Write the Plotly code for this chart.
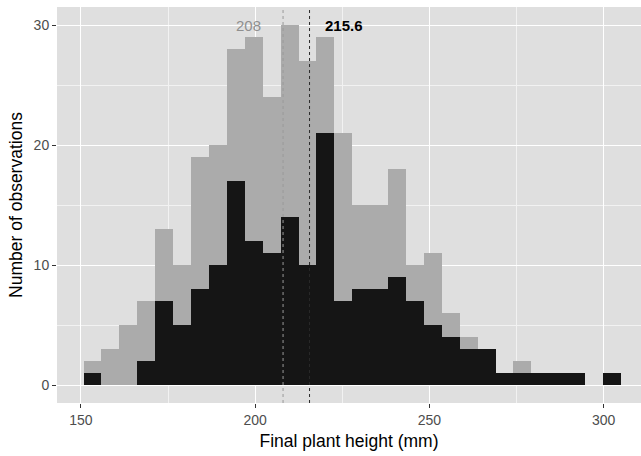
import plotly.graph_objects as go

# Histogram bins (30 bins, ggplot default)
bin_start = 150.75
bin_width = 5.14
n_bins = 30
bin_centers = [bin_start + bin_width * (i + 0.5) for i in range(n_bins)]

# Counts per bin
gray_counts = [2, 3, 5, 7, 13, 10, 19, 20, 28, 29,
               24, 30, 27, 29, 21, 15, 15, 18, 10, 11,
               6, 4, 3, 1, 2, 1, 1, 1, 0, 1]
black_counts = [1, 0, 0, 2, 7, 5, 8, 10, 17, 12,
                11, 14, 10, 21, 7, 8, 8, 9, 7, 5,
                4, 3, 3, 1, 1, 1, 1, 1, 0, 1]

gray_mean = 208.0
black_mean = 215.6
gray_mean_label = "208"
black_mean_label = "215.6"

x_ticks = [150, 200, 250, 300]
y_ticks = [0, 10, 20, 30]

FONT = "Liberation Sans, Arial, sans-serif"
GRAY_BAR = "#ababab"
BLACK_BAR = "#151515"
PANEL = "#dfdfdf"

fig = go.Figure()
fig.add_trace(go.Bar(x=bin_centers, y=gray_counts, width=bin_width,
                     marker=dict(color=GRAY_BAR, line=dict(width=0)),
                     showlegend=False, hoverinfo="x+y"))
fig.add_trace(go.Bar(x=bin_centers, y=black_counts, width=bin_width,
                     marker=dict(color=BLACK_BAR, line=dict(width=0)),
                     showlegend=False, hoverinfo="x+y"))

# mean lines
fig.add_shape(type="line", xref="x", yref="paper", x0=gray_mean, x1=gray_mean,
              y0=0, y1=1, line=dict(color="#9a9a9a", width=1, dash="3px,3px"))
fig.add_shape(type="line", xref="x", yref="paper", x0=black_mean, x1=black_mean,
              y0=0, y1=1, line=dict(color="#2a2a2a", width=1, dash="3px,3px"))

fig.add_annotation(x=gray_mean - 10, y=30, text=gray_mean_label, showarrow=False,
                   font=dict(family=FONT, size=15, color="#8f8f8f"))
fig.add_annotation(x=black_mean + 10, y=30, text="<b>" + black_mean_label + "</b>",
                   showarrow=False, font=dict(family=FONT, size=15, color="#000000"))

fig.update_layout(
    width=641, height=456,
    margin=dict(l=57, r=0, t=7, b=53),
    paper_bgcolor="white",
    plot_bgcolor=PANEL,
    barmode="overlay",
    bargap=0,
    font=dict(family=FONT, size=14, color="#4d4d4d"),
)
fig.update_xaxes(
    range=[143.12, 310.73],
    tickvals=x_ticks,
    ticks="outside", ticklen=4, tickwidth=1, tickcolor="#333333",
    tickfont=dict(family=FONT, size=14, color="#4d4d4d"),
    showgrid=True, gridcolor="white", gridwidth=1.2,
    minor=dict(dtick=25, tick0=150, showgrid=True, gridcolor="#f2f2f2", gridwidth=0.6, ticks=""),
    zeroline=False, showline=False,
    title=dict(text="Final plant height (mm)", standoff=7,
               font=dict(family=FONT, size=17.5, color="#000000")),
)
fig.update_yaxes(
    range=[-1.5, 31.5],
    tickvals=y_ticks,
    ticks="outside", ticklen=4, tickwidth=1, tickcolor="#333333",
    tickfont=dict(family=FONT, size=14, color="#4d4d4d"),
    showgrid=True, gridcolor="white", gridwidth=1.2,
    minor=dict(dtick=5, tick0=0, showgrid=True, gridcolor="#f2f2f2", gridwidth=0.6, ticks=""),
    zeroline=False, showline=False,
    title=dict(text="Number of observations", standoff=6,
               font=dict(family=FONT, size=17.5, color="#000000")),
)

fig.write_html("out.html")
